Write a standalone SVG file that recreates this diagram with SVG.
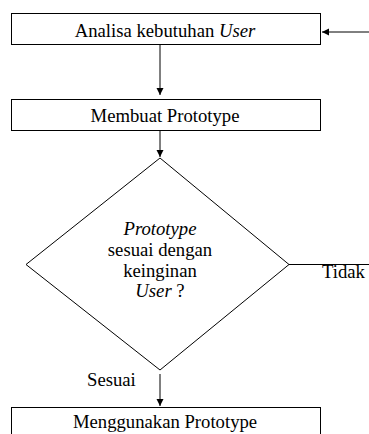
<svg xmlns="http://www.w3.org/2000/svg" width="369" height="434" viewBox="0 0 369 434">
<defs>
<marker id="ah" markerWidth="8" markerHeight="8" refX="7" refY="4" orient="auto" markerUnits="userSpaceOnUse">
<path d="M0,0.5 L7,4 L0,7.5 Z" fill="#000"/>
</marker>
<style>
.box{fill:#fff;stroke:#000;stroke-width:1}
.ln{fill:none;stroke:#000;stroke-width:1}
.t{font-family:'Liberation Serif','DejaVu Serif',serif;font-size:18.7px;fill:#000}
.c{text-anchor:middle}
.i{font-style:italic}
</style>
</defs>
<rect width="369" height="434" fill="#fff"/>
<g id="connectors">
<line class="ln" x1="369" y1="32" x2="322" y2="32" marker-end="url(#ah)"/>
<line class="ln" x1="160" y1="45" x2="160" y2="95" marker-end="url(#ah)"/>
<line class="ln" x1="160" y1="131" x2="160" y2="157" marker-end="url(#ah)"/>
<line class="ln" x1="289" y1="264.5" x2="369" y2="264.5"/>
<line class="ln" x1="160" y1="374" x2="160" y2="406" marker-end="url(#ah)"/>
<text class="t" x="322" y="278">Tidak</text>
<text class="t" x="87" y="386">Sesuai</text>
</g>
<g id="analisa">
<rect class="box" x="11.5" y="13.5" width="309" height="31"/>
<text class="t c" x="165" y="36.5">Analisa kebutuhan <tspan class="i">User</tspan></text>
</g>
<g id="membuat">
<rect class="box" x="11.5" y="99.5" width="309" height="31"/>
<text class="t c" x="165" y="122">Membuat Prototype</text>
</g>
<g id="decision">
<polygon class="box" points="160,158 289,264.5 160,370 26,264.5"/>
<text class="t c i" x="160" y="235">Prototype</text>
<text class="t c" x="160" y="256">sesuai dengan</text>
<text class="t c" x="160" y="277">keinginan</text>
<text class="t c" x="160" y="297"><tspan class="i">User</tspan> ?</text>
</g>
<g id="menggunakan">
<rect class="box" x="11.5" y="407.5" width="309" height="40"/>
<text class="t c" x="165" y="428">Menggunakan Prototype</text>
</g>
</svg>
